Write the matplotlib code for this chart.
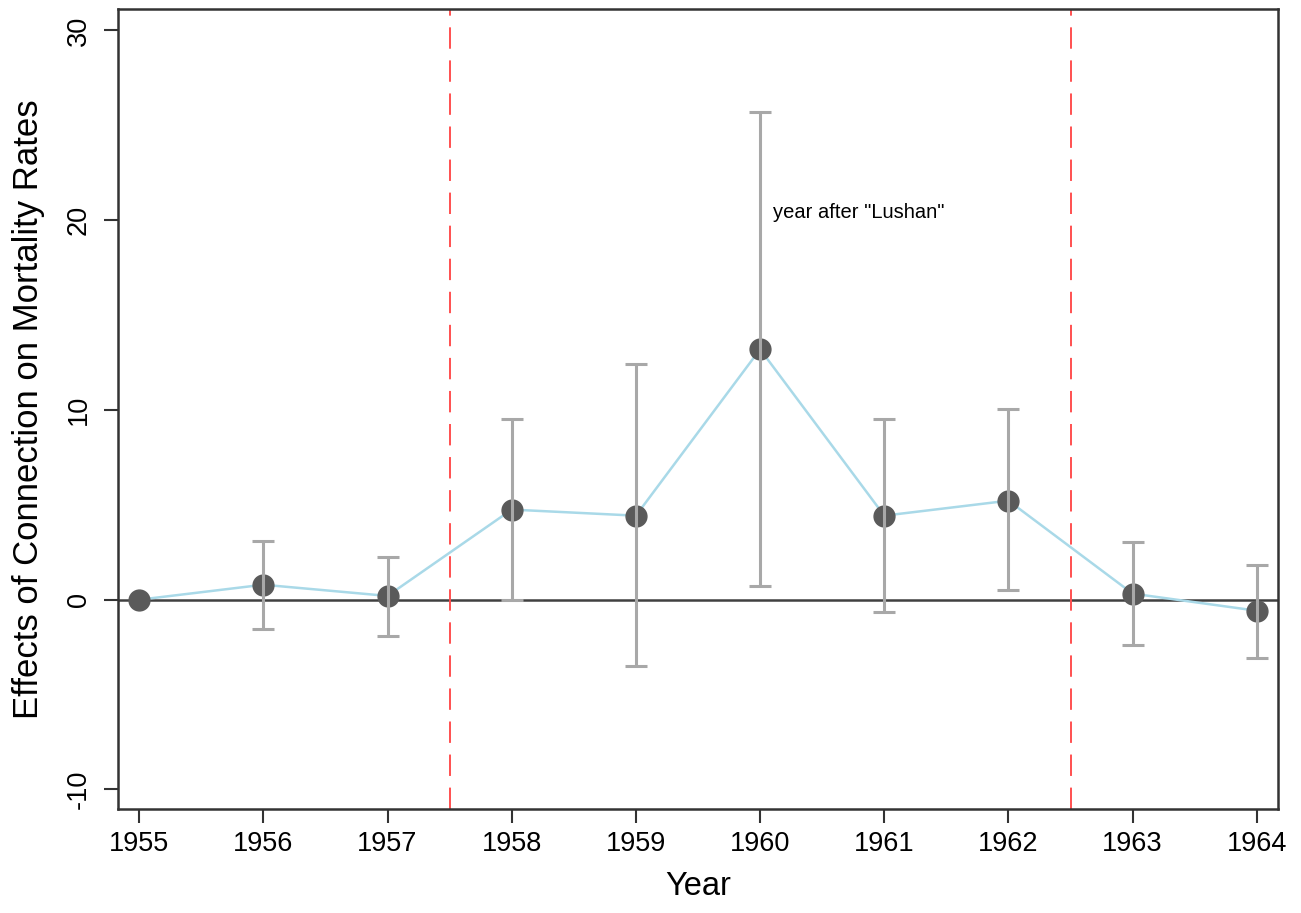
import matplotlib.pyplot as plt
import numpy as np

plt.rcParams['font.family'] = ['Liberation Sans', 'DejaVu Sans']
plt.rcParams['axes.unicode_minus'] = False

years = [1955, 1956, 1957, 1958, 1959, 1960, 1961, 1962, 1963, 1964]
coef = [0.0, 0.79, 0.2, 4.75, 4.43, 13.2, 4.43, 5.22, 0.32, -0.58]
ci_low = [np.nan, -1.53, -1.9, 0.0, -3.48, 0.74, -0.63, 0.53, -2.37, -3.06]
ci_high = [np.nan, 3.1, 2.27, 9.55, 12.4, 25.7, 9.55, 10.03, 3.06, 1.85]
period_lines = [1957.5, 1962.5]
note_text = 'year after "Lushan"'


def main():
    fig = plt.figure(figsize=(13.01, 9.13), dpi=100)
    ax = fig.add_axes([0.0907, 0.1139, 0.8916, 0.8762])

    c = np.array(coef)
    lo = np.array(ci_low)
    hi = np.array(ci_high)

    # zero reference line
    ax.axhline(0, color='#404040', linewidth=1.8, zorder=1)
    for x in period_lines:
        ax.axvline(x, color='#ff5050', linewidth=1.4, linestyle=(0, (11, 6)), zorder=1)

    ax.plot(years, coef, color='#a9d9e8', linewidth=1.8, zorder=2)
    ax.plot(years, coef, 'o', color='#5a5a5a', markersize=15, zorder=3)
    ax.errorbar(years, c, yerr=[c - lo, hi - c], fmt='none', ecolor='#a8a8a8',
                elinewidth=2.2, capsize=8, capthick=2.2, zorder=4)

    ax.text(1960.1, 20.4, note_text, fontsize=14.5, va='center', ha='left', color='black')

    ax.set_xlim(1954.83, 1964.17)
    ax.set_ylim(-11.03, 31.13)
    ax.set_xticks(years)
    ax.set_yticks([-10, 0, 10, 20, 30])
    ax.tick_params(axis='both', direction='out', length=10, width=1.5, color='#333333', labelsize=19.5)
    plt.setp(ax.get_yticklabels(), rotation=90, va='center')
    ax.tick_params(axis='y', pad=9)
    ax.tick_params(axis='x', pad=6)
    ax.set_xlabel('Year', fontsize=23.5, labelpad=10)
    ax.set_ylabel('Effects of Connection on Mortality Rates', fontsize=25, labelpad=15)

    for s in ax.spines.values():
        s.set_linewidth(1.8)
        s.set_color('#333333')

    fig.savefig('out.png', dpi=100)


if __name__ == "__main__":
    main()
